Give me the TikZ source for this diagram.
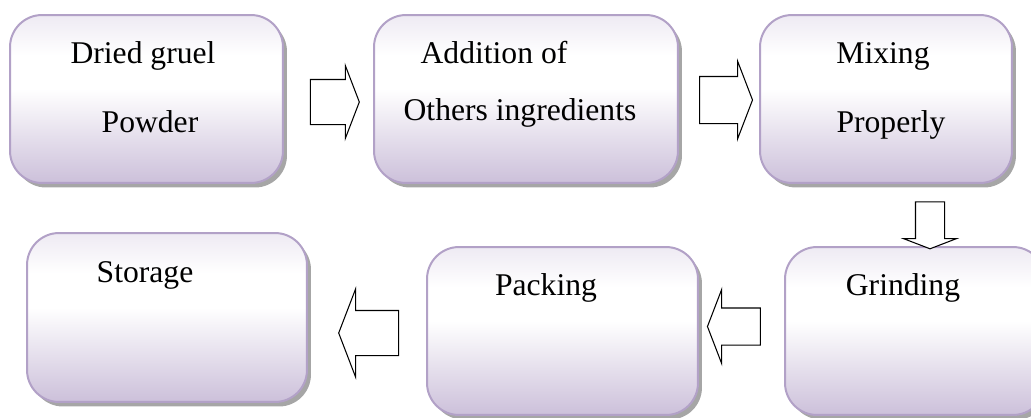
\documentclass[tikz,border=0pt]{standalone}
\usepackage{fontspec}
\setmainfont{Liberation Serif}
\usepackage{xcolor}
\usepackage{tikz}
\usetikzlibrary{shadows,shapes.arrows}

\definecolor{lavbot}{RGB}{204,192,218}
\definecolor{lavtop}{RGB}{238,234,243}
\definecolor{lavline}{RGB}{178,161,199}
\pgfdeclareverticalshading{lavfade}{100bp}{color(0bp)=(lavbot); color(25bp)=(lavbot); color(53bp)=(white); color(63bp)=(white); color(75bp)=(lavtop); color(100bp)=(lavtop)}

\begin{document}
\begin{tikzpicture}[
  x=0.02cm, y=-0.02cm,
  stage/.style={draw=lavline, line width=0.04cm, rounded corners=0.64cm, shading=lavfade,
    minimum height=3.36cm, inner sep=0pt,
    drop shadow={shadow xshift=0.08cm, shadow yshift=-0.09cm, fill=black, opacity=0.35}},
  lbl/.style={anchor=base, inner sep=0pt, font=\fontsize{18}{20}\selectfont},
  flow/.style={single arrow, draw=black, fill=white, line width=0.6pt, inner xsep=0pt,
    single arrow tip angle=138, single arrow head indent=0pt}
]
\useasboundingbox (0,0) rectangle (1031,417);
\clip (0,0) rectangle (1031,417);

% top row
\node[stage, minimum width=5.46cm] (dried) at (146.5,99) {};
\node[stage, minimum width=6.08cm] (addition) at (526,99) {};
\node[stage, minimum width=5.04cm] (mixing) at (886,99) {};

% bottom row
\node[stage, minimum width=5.2cm] (grinding) at (915,331) {};
\node[stage, minimum width=5.42cm] (packing) at (562.5,331) {};
\node[stage, minimum width=5.6cm, minimum height=3.38cm] (storage) at (167,317.5) {};

% labels
\node[lbl] (driedA) at (143,63) {Dried gruel};
\node[lbl] (driedB) at (150,132) {Powder};
\node[lbl] (additionA) at (494,63) {Addition of};
\node[lbl] (additionB) at (520,120) {Others ingredients};
\node[lbl] (mixingA) at (883,63) {Mixing};
\node[lbl] (mixingB) at (891,132) {Properly};
\node[lbl] (grindingA) at (903,295) {Grinding};
\node[lbl] (packingA) at (546,295) {Packing};
\node[lbl] (storageA) at (145,282) {Storage};

% block arrows
\node[flow, inner ysep=0.44cm, minimum height=0.98cm, single arrow head extend=0.28cm] (step1) at (330.5,102) {};
\node[flow, inner ysep=0.46cm, minimum height=1.06cm, single arrow head extend=0.31cm] (step2) at (721.5,100) {};
\node[flow, inner xsep=0.28cm, inner ysep=0pt, minimum height=0.94cm, single arrow head extend=0.24cm, shape border rotate=270] (step3) at (930,222.5) {};
\node[flow, inner ysep=0.36cm, minimum height=1.06cm, single arrow head extend=0.37cm, shape border rotate=180] (step4) at (737.5,326.5) {};
\node[flow, inner ysep=0.44cm, minimum height=1.2cm, single arrow head extend=0.43cm, shape border rotate=180] (step5) at (373,333) {};
\end{tikzpicture}
\end{document}
